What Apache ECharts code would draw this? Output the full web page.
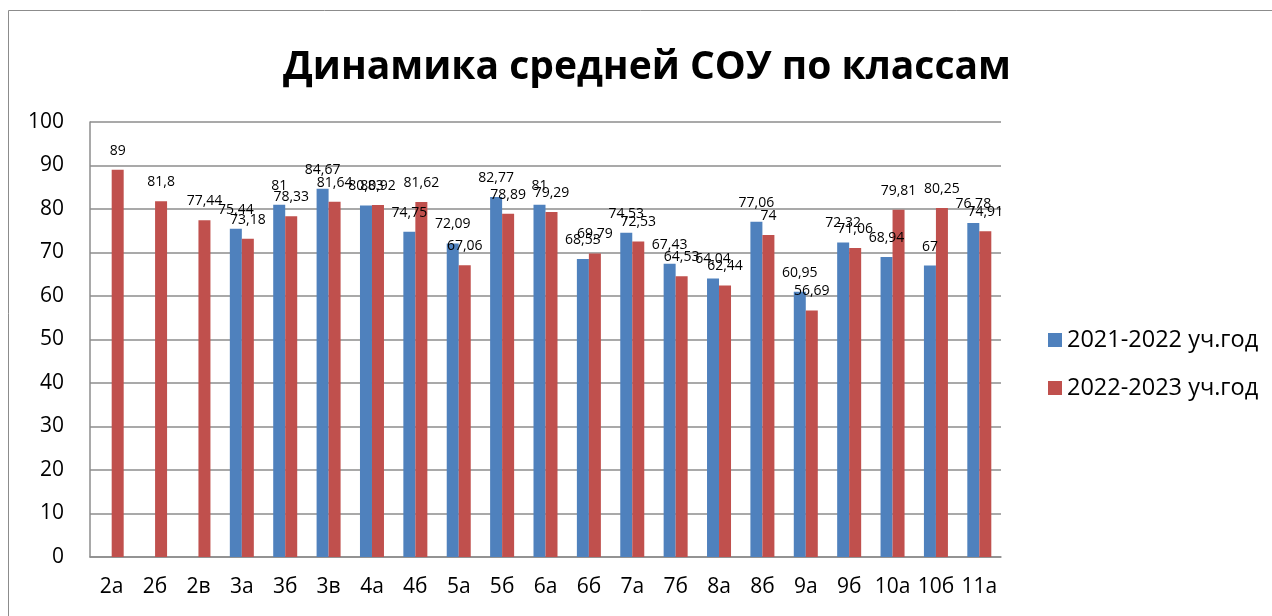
<!DOCTYPE html>
<html>
<head>
<meta charset="utf-8">
<script src="https://cdn.jsdelivr.net/npm/echarts@6/dist/echarts.min.js"></script>
<style>
html,body{margin:0;padding:0;background:#fff;}
#chart{width:1272px;height:616px;}
</style>
</head>
<body>
<div id="chart"></div>
<script>
const titleText = 'Динамика средней СОУ по классам';
const categories = ['2а','2б','2в','3а','3б','3в','4а','4б','5а','5б','6а','6б','7а','7б','8а','8б','9а','9б','10а','10б','11а'];
const seriesNames = ['2021-2022 уч.год', '2022-2023 уч.год'];
const values2122 = [null, null, null, 75.44, 81, 84.67, 80.83, 74.75, 72.09, 82.77, 81, 68.53, 74.53, 67.43, 64.04, 77.06, 60.95, 72.32, 68.94, 67, 76.78];
const values2223 = [89, 81.8, 77.44, 73.18, 78.33, 81.64, 80.92, 81.62, 67.06, 78.89, 79.29, 69.79, 72.53, 64.53, 62.44, 74, 56.69, 71.06, 79.81, 80.25, 74.91];
const yTicks = [0, 10, 20, 30, 40, 50, 60, 70, 80, 90, 100];

const FONT = '"Open Sans", "Noto Sans", sans-serif';
const chart = echarts.init(document.getElementById('chart'));
const fmt = p => (p.value == null ? '' : String(p.value).replace('.', ','));
const labelCfg = {
  show: true, position: 'top', distance: 12,
  fontFamily: FONT, fontSize: 14, color: '#000', formatter: fmt
};
chart.setOption({
  animation: false,
  backgroundColor: '#fff',
  graphic: [
    { type: 'rect', shape: { x: 8.5, y: 10.5, width: 1400, height: 800 },
      style: { fill: 'none', stroke: '#8c8c8c', lineWidth: 1 }, silent: true },
    { type: 'text', x: 647, y: 68,
      style: { text: titleText, fontFamily: FONT, fontWeight: 'bold', fontSize: 39,
               fill: '#000', textAlign: 'center', textVerticalAlign: 'middle' } }
  ],
  legend: {
    orient: 'vertical', left: 1043, top: 323,
    itemWidth: 14, itemHeight: 14, itemGap: 24,
    icon: 'rect',
    textStyle: { fontFamily: FONT, fontSize: 23.5, color: '#000' },
    data: seriesNames
  },
  grid: { left: 90, right: 271, top: 122, bottom: 59, containLabel: false },
  xAxis: {
    type: 'category', data: categories,
    axisLine: { show: true, lineStyle: { color: '#8c8c8c', width: 1.5 } },
    axisTick: { show: false },
    axisLabel: { fontFamily: FONT, fontSize: 21, color: '#000', margin: 20, interval: 0 }
  },
  yAxis: {
    type: 'value', min: yTicks[0], max: yTicks[yTicks.length - 1], interval: 10,
    axisLine: { show: true, lineStyle: { color: '#8c8c8c', width: 1.5 } },
    axisTick: { show: false },
    axisLabel: { fontFamily: FONT, fontSize: 21, color: '#000', margin: 26 },
    splitLine: { show: true, lineStyle: { color: '#8c8c8c', width: 1.5 } }
  },
  series: [
    { name: seriesNames[0], type: 'bar', data: values2122, barWidth: 12, barGap: '0%',
      itemStyle: { color: '#4F81BD' }, label: labelCfg },
    { name: seriesNames[1], type: 'bar', data: values2223, barWidth: 12, barGap: '0%',
      itemStyle: { color: '#C0504D' }, label: labelCfg }
  ]
});
</script>
</body>
</html>
